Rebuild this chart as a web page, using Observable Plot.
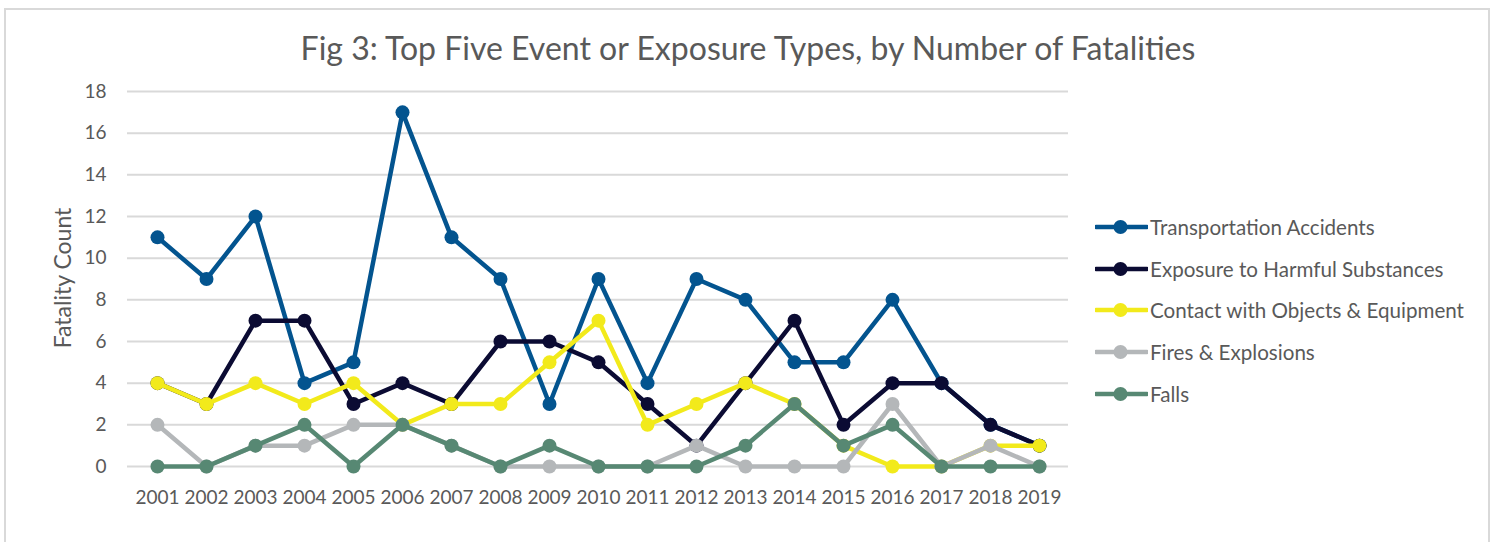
<!DOCTYPE html>
<html>
<head>
<meta charset="utf-8">
<script src="https://cdn.jsdelivr.net/npm/d3@7"></script>
<script src="https://cdn.jsdelivr.net/npm/@observablehq/plot@0.6"></script>
<style>
  html, body { margin: 0; padding: 0; background: #fff; }
  body { width: 1496px; height: 542px; position: relative; overflow: hidden; font-family: Lato, "Open Sans", sans-serif; color: #595959; }
  #frame { position: absolute; left: 4px; top: 8px; width: 1486px; height: 560px; border: 2px solid #d9d9d9; box-sizing: border-box; }
  #title { position: absolute; left: 0; width: 1496px; top: 28px; text-align: center; font-size: 32px; color: #595959; }
  #chart { position: absolute; left: 0; top: 0; }
  #ylabel { position: absolute; left: 62px; top: 278px; transform: translate(-50%, -50%) rotate(-90deg); white-space: nowrap; font-size: 23px; color: #595959; }
  #legend { position: absolute; left: 1095px; top: 206px; }
  .row { height: 41.7px; display: flex; align-items: center; white-space: nowrap; font-size: 20.6px; color: #595959; }
  .row svg { margin-right: 2px; }
</style>
</head>
<body>
<div id="frame"></div>
<div id="chart"></div>
<div id="title">Fig 3: Top Five Event or Exposure Types, by Number of Fatalities</div>
<div id="ylabel"></div>
<div id="legend"></div>
<script>
const years = [2001,2002,2003,2004,2005,2006,2007,2008,2009,2010,2011,2012,2013,2014,2015,2016,2017,2018,2019];
const seriesNames = ["Transportation Accidents","Exposure to Harmful Substances","Contact with Objects & Equipment","Fires & Explosions","Falls"];
const seriesColors = ["#03548f","#0b0b33","#f2ea1b","#b4b7b9","#578873"];
const transportation = [11,9,12,4,5,17,11,9,3,9,4,9,8,5,5,8,4,2,1];
const exposure       = [4,3,7,7,3,4,3,6,6,5,3,1,4,7,2,4,4,2,1];
const contact        = [4,3,4,3,4,2,3,3,5,7,2,3,4,3,1,0,0,1,1];
const fires          = [2,0,1,1,2,2,1,0,0,0,0,1,0,0,0,3,0,1,0];
const falls          = [0,0,1,2,0,2,1,0,1,0,0,0,1,3,1,2,0,0,0];
const yTicks = [0,2,4,6,8,10,12,14,16,18];
const yLabel = "Fatality Count";

const seriesValues = [transportation, exposure, contact, fires, falls];
const data = seriesNames.flatMap((name, i) => years.map((year, j) => ({series: name, year, value: seriesValues[i][j]})));

const marks = [
  Plot.gridY(yTicks, {stroke: "#d9d9d9", strokeOpacity: 1, strokeWidth: 2}),
  Plot.axisY(yTicks, {tickSize: 0, tickPadding: 21, fontSize: 19, label: null}),
  Plot.axisX(years, {tickSize: 0, tickPadding: 24, fontSize: 19, label: null, tickFormat: d => String(d)})
];
seriesNames.forEach((name, i) => {
  const rows = data.filter(d => d.series === name);
  marks.push(Plot.line(rows, {x: "year", y: "value", stroke: seriesColors[i], strokeWidth: 4.5, strokeLinejoin: "round"}));
  marks.push(Plot.dot(rows, {x: "year", y: "value", fill: seriesColors[i], r: 7}));
});

const chart = Plot.plot({
  width: 1496,
  height: 542,
  marginLeft: 127,
  marginRight: 428,
  marginTop: 91,
  marginBottom: 76,
  style: {fontFamily: "Lato, 'Open Sans', sans-serif", color: "#595959", background: "transparent"},
  x: {type: "point", domain: years, padding: 0.5},
  y: {domain: [0, 18]},
  marks
});
document.getElementById("chart").appendChild(chart);
document.getElementById("ylabel").textContent = yLabel;

const legend = document.getElementById("legend");
seriesNames.forEach((name, i) => {
  const row = document.createElement("div");
  row.className = "row";
  row.innerHTML = `<svg width="53" height="16"><line x1="1" y1="8" x2="52" y2="8" stroke="${seriesColors[i]}" stroke-width="4.5" stroke-linecap="round"/><circle cx="25.5" cy="8" r="7" fill="${seriesColors[i]}"/></svg><span></span>`;
  row.querySelector("span").textContent = name;
  legend.appendChild(row);
});
</script>
</body>
</html>
